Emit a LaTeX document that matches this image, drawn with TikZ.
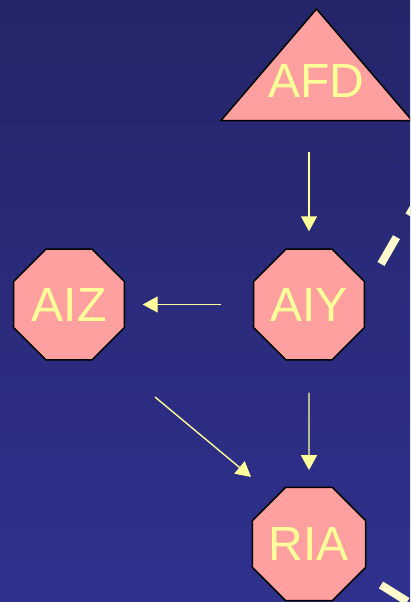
\documentclass[tikz,border=0pt]{standalone}
\usepackage{fontspec}
\setmainfont{Liberation Sans}
\usetikzlibrary{arrows.meta,shapes.geometric,calc}

\definecolor{bgtop}{RGB}{37,37,106}
\definecolor{bgbot}{RGB}{47,49,141}
\definecolor{cellfill}{RGB}{255,160,160}
\definecolor{labelyellow}{RGB}{255,255,153}
\definecolor{trackcream}{RGB}{255,252,204}

\begin{document}
\begin{tikzpicture}[x=1pt,y=-1pt,
  neuron/.style={regular polygon, regular polygon sides=8, minimum size=120pt,
    inner sep=0pt, fill=cellfill, draw=black, line width=1.5pt,
    text=labelyellow, font=\fontsize{48}{48}\selectfont},
  cellname/.style={text=labelyellow, inner sep=0pt, font=\fontsize{48}{48}\selectfont},
  synapse/.style={draw=labelyellow, line width=1.4pt,
    -{Triangle[length=15pt,width=16pt]}},
  track/.style={draw=trackcream, line width=8pt, dash pattern=on 31pt off 25pt}
]
\useasboundingbox (0,0) rectangle (410,602);
\begin{scope}
  \clip (0,0) rectangle (410,602);
  % background
  \shade[top color=bgtop, bottom color=bgbot] (0,0) rectangle (410,602);

  % sensory neuron AFD (triangle)
  \filldraw[fill=cellfill, draw=black, line width=1.5pt]
    (316.5,9) -- (221,120.5) -- (412,120.5) -- cycle;
  \node[cellname] (AFD) at (316.5,81) {AFD};
  \coordinate (AFDbase) at (316.5,120.5);

  % interneurons (octagons)
  \node[neuron] (AIZ) at (69,304.5) {AIZ};
  \node[neuron] (AIY) at (309,304.5) {AIY};
  \node[neuron] (RIA) at (309,544) {RIA};

  % synaptic connections
  \draw[synapse, shorten <=31.5pt, shorten >=17pt] (AFDbase -| AIY.north) -- (AIY.north);
  \draw[synapse, shorten <=31.5pt, shorten >=17.5pt] (AIY.west) -- (AIY.west -| AIZ.east);
  \draw[synapse, shorten <=32pt, shorten >=16.5pt] (AIY.south) -- (RIA.north);
  \draw[synapse] ($(AIZ.center)+(86,92.5)$) -- ($(RIA.center)+(-58,-67)$);

  % dashed tracks leaving to the right
  \draw[track] ($(AIY.center)+(72,-40.5)$) -- ++(75,-130);
  \draw[track] ($(RIA.center)+(72,41)$) -- ++(85,53);
\end{scope}
\end{tikzpicture}
\end{document}
